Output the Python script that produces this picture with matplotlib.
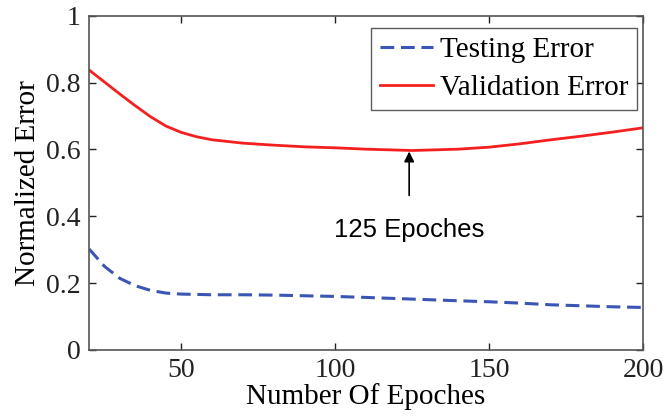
import matplotlib
matplotlib.use("Agg")
import matplotlib.pyplot as plt

epochs = [20, 25, 30, 35, 40, 45, 50, 55, 60, 70, 80, 90, 100, 110, 125, 140, 150, 160, 170, 180, 190, 200]
validation = [0.838, 0.802, 0.766, 0.731, 0.698, 0.670, 0.651, 0.638, 0.629, 0.619, 0.613, 0.608, 0.605, 0.601, 0.597, 0.601, 0.607, 0.617, 0.629, 0.640, 0.652, 0.665]
testing = [0.302, 0.250, 0.214, 0.192, 0.178, 0.170, 0.167, 0.166, 0.165, 0.165, 0.164, 0.162, 0.160, 0.157, 0.152, 0.147, 0.144, 0.140, 0.135, 0.132, 0.129, 0.127]

yticks = [0, 0.2, 0.4, 0.6, 0.8, 1]
ytick_labels = ["0", "0.2", "0.4", "0.6", "0.8", "1"]
xticks = [50, 100, 150, 200]

plt.rcParams['font.family'] = ['Liberation Serif', 'DejaVu Serif']

fig = plt.figure(figsize=(6.65, 4.19), dpi=100)
ax = fig.add_axes([0.134, 0.165, 0.833, 0.797])

ax.plot(epochs, testing, linestyle='--', color='#3b55b5', linewidth=2.2, dashes=(4.5, 2.2), label="Testing Error")
ax.plot(epochs, validation, linestyle='-', color='#f42020', linewidth=2.0, label="Validation Error")

ax.set_xlim(20, 200)
ax.set_ylim(0, 1)
ax.set_xticks(xticks)
ax.set_yticks(yticks)
ax.set_yticklabels(ytick_labels)
ax.tick_params(direction='in', top=True, right=True, length=5, width=1, labelsize=20, pad=6, colors='#222222')
for s in ax.spines.values():
    s.set_color('#555555')
    s.set_linewidth(1.2)

ax.set_xlabel('Number Of Epoches', fontsize=21, labelpad=0)
ax.set_ylabel('Normalized Error', fontsize=21, labelpad=4)

ax.annotate('125 Epoches', xy=(124, 0.594), xytext=(124, 0.36),
            ha='center', va='center', fontsize=18.5, family=['Liberation Sans', 'DejaVu Sans'],
            arrowprops=dict(arrowstyle='-|>', color='black', lw=1.2, mutation_scale=15, shrinkA=14, shrinkB=0))

leg = ax.legend(loc='upper right', bbox_to_anchor=(0.989, 0.964), fontsize=21, frameon=True, fancybox=False,
                handlelength=1.8, handletextpad=0.25, borderpad=0.3, labelspacing=0.4, borderaxespad=0)
leg.get_frame().set_edgecolor('#333333')
leg.get_frame().set_linewidth(1.0)

plt.savefig("out.png", dpi=100)
